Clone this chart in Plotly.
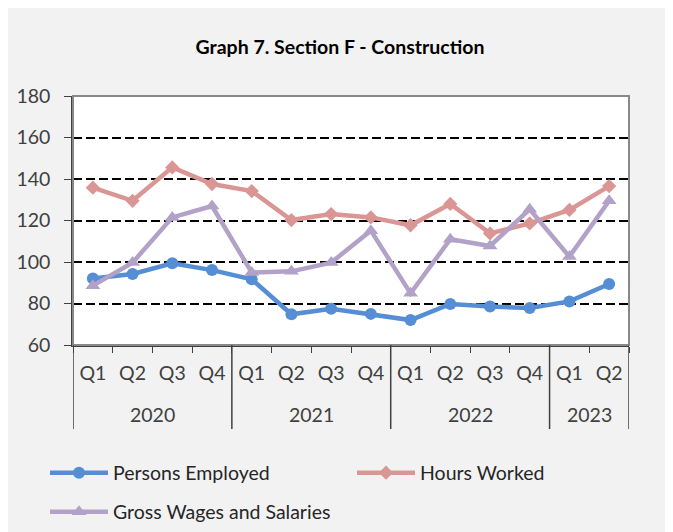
import plotly.graph_objects as go

years = ["2020"] * 4 + ["2021"] * 4 + ["2022"] * 4 + ["2023"] * 2
quarters = ["Q1", "Q2", "Q3", "Q4"] * 3 + ["Q1", "Q2"]

persons_employed = [92.1, 94.2, 99.4, 96.1, 91.7, 74.8, 77.5, 75.0, 72.0, 79.8, 78.5, 77.8, 81.0, 89.4]
hours_worked = [135.8, 129.5, 145.6, 137.6, 134.2, 120.2, 123.1, 121.5, 117.7, 128.0, 113.8, 118.6, 125.1, 136.6]
gross_wages = [88.6, 99.7, 121.5, 127.0, 94.9, 95.5, 99.7, 115.1, 84.9, 111.0, 107.7, 125.4, 102.6, 129.5]

FONT = "Lato"
FS = 19.5
W, H = 665, 524
L, R, T, B = 65, 44, 88, 187
pw, ph = W - L - R, H - T - B

def px_x(p):
    return (p - L) / pw

def px_y(p):
    return (H - B - p) / ph

# unique category ids, labelled by quarter
cats = [f"{y} {q}" for y, q in zip(years, quarters)]

# year groups -> (first index, last index)
groups = []
for i, y in enumerate(years):
    if groups and groups[-1][0] == y:
        groups[-1][2] = i
    else:
        groups.append([y, i, i])

fig = go.Figure()
fig.add_trace(go.Scatter(
    x=cats, y=persons_employed, name="Persons Employed",
    mode="lines+markers", line=dict(color="#558ED5", width=4.5),
    marker=dict(symbol="circle", size=12, color="#558ED5"), legend="legend"))
fig.add_trace(go.Scatter(
    x=cats, y=hours_worked, name="Hours Worked",
    mode="lines+markers", line=dict(color="#DA9694", width=4.5),
    marker=dict(symbol="diamond", size=11, color="#DA9694"), legend="legend"))
fig.add_trace(go.Scatter(
    x=cats, y=gross_wages, name="Gross Wages and Salaries",
    mode="lines+markers", line=dict(color="#B3A2C7", width=4.5),
    marker=dict(symbol="triangle-up", size=13, color="#B3A2C7"), legend="legend2"))

shapes = [
    dict(type="rect", xref="paper", yref="paper", x0=0, x1=1, y0=0, y1=1,
         line=dict(color="#898989", width=2), fillcolor="rgba(0,0,0,0)", layer="above"),
]
annotations = []
div_y = px_y(421)
year_y = px_y(406)
bounds = [groups[0][1] - 0.5] + [g[2] + 0.5 for g in groups]
for b in bounds:
    shapes.append(dict(type="line", xref="x", yref="paper", x0=b, x1=b, y0=0, y1=div_y,
                       line=dict(color="#404040", width=1.5)))
for y, i0, i1 in groups:
    annotations.append(dict(text=y, xref="x", yref="paper", x=(i0 + i1) / 2, y=year_y,
                            xanchor="center", yanchor="middle", showarrow=False,
                            font=dict(family=FONT, size=FS, color="#404040")))

fig.update_layout(
    width=W, height=H,
    margin=dict(l=L, r=R, t=T, b=B, autoexpand=False),
    paper_bgcolor="#F2F2F2",
    plot_bgcolor="white",
    font=dict(family=FONT, size=FS, color="#404040"),
    title=dict(text="<b>Graph 7. Section F - Construction</b>", x=px_x(332), xref="paper",
               xanchor="center", y=1 - 39 / H, yanchor="middle",
               font=dict(family=FONT, size=FS, color="#000000")),
    showlegend=True,
    legend=dict(orientation="h", x=px_x(37), y=px_y(465), xanchor="left", yanchor="middle",
                entrywidth=234, itemwidth=58, bgcolor="rgba(0,0,0,0)",
                font=dict(size=FS, color="#262626"), traceorder="normal"),
    legend2=dict(orientation="h", x=px_x(37), y=px_y(504), xanchor="left", yanchor="middle",
                 itemwidth=58, bgcolor="rgba(0,0,0,0)", font=dict(size=FS, color="#262626")),
    shapes=shapes,
    annotations=annotations,
    xaxis=dict(type="category", range=[-0.5, len(cats) - 0.5],
               tickvals=cats, ticktext=quarters, tickson="boundaries",
               showline=True, linecolor="#404040", linewidth=1.5,
               ticks="outside", ticklen=6, tickcolor="#404040", showgrid=False,
               ticklabelstandoff=10, tickfont=dict(size=FS, color="#404040")),
    yaxis=dict(range=[60, 180], dtick=20, showline=True, linecolor="#404040", linewidth=1.5,
               ticks="outside", ticklen=7, tickcolor="#404040", ticklabelstandoff=10,
               showgrid=True, gridcolor="black", gridwidth=2, griddash="9px,4px",
               zeroline=False, tickfont=dict(size=FS, color="#404040")),
)

fig.write_html("out.html", post_script="document.documentElement.style.overflow='hidden';document.body.style.overflow='hidden';")
